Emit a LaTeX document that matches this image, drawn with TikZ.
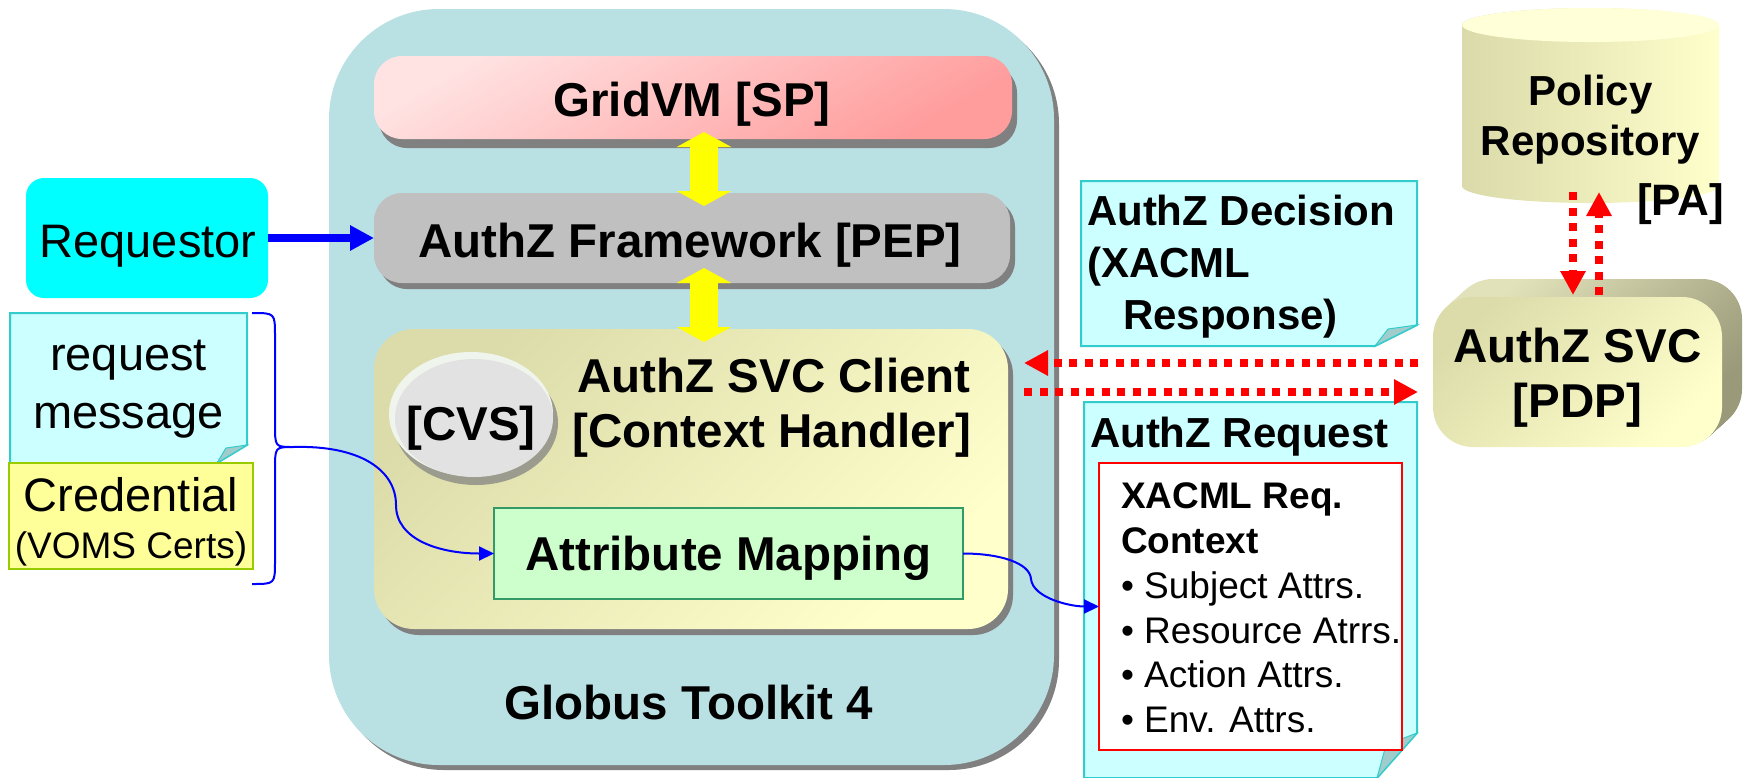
\documentclass[tikz,border=0pt]{standalone}
\usepackage{fontspec}
\setmainfont{Liberation Sans}
\usetikzlibrary{arrows.meta,shadows}
\definecolor{globus}{HTML}{B9E0E3}
\definecolor{shgray}{HTML}{808080}
\definecolor{gridA}{HTML}{FFE2E2}
\definecolor{gridB}{HTML}{FF9C9C}
\definecolor{pepgray}{HTML}{C0C0C0}
\definecolor{svcA}{HTML}{DCDCAA}
\definecolor{svcB}{HTML}{FFFFCC}
\definecolor{attrfill}{HTML}{CCFFCC}
\definecolor{attrline}{HTML}{339966}
\definecolor{notefill}{HTML}{CCFFFF}
\definecolor{noteline}{HTML}{33CCCC}
\definecolor{foldfill}{HTML}{A0CCCC}
\definecolor{credfill}{HTML}{FFFF99}
\definecolor{credline}{HTML}{99CC00}
\definecolor{cvsbody}{HTML}{E2E2E2}
\definecolor{cvsrim}{HTML}{EFF5EC}
\definecolor{cvsshadow}{HTML}{9C9C8E}
\definecolor{extA}{HTML}{E2E2BA}
\definecolor{extB}{HTML}{9A9A7A}
\definecolor{cylA}{HTML}{DADAAA}
\definecolor{cylB}{HTML}{FFFFCC}
\definecolor{cyltop}{HTML}{FFFFD8}
\definecolor{reqcyan}{HTML}{00FFFF}
\definecolor{arrowyellow}{HTML}{FFFF00}
\definecolor{pureblue}{HTML}{0000FF}
\definecolor{purered}{HTML}{FF0000}
\begin{document}
\begin{tikzpicture}[x=1pt,y=-1pt,
  every node/.style={inner sep=0pt,outer sep=0pt},
  tb/.style={font=\fontsize{47.5}{47.5}\selectfont\bfseries,anchor=base},
  tr/.style={font=\fontsize{47}{47}\selectfont,anchor=base},
  tm/.style={font=\fontsize{42}{42}\selectfont\bfseries,anchor=base west},
  tmc/.style={font=\fontsize{42}{42}\selectfont\bfseries,anchor=base},
  tsb/.style={font=\fontsize{37}{37}\selectfont\bfseries,anchor=base west},
  ts/.style={font=\fontsize{37}{37}\selectfont,anchor=base west},
  note/.style={fill=notefill,draw=noteline,line width=2pt},
  fold/.style={fill=foldfill,draw=noteline,line width=1pt},
  thinblue/.style={draw=pureblue,line width=2pt},
  thinarrow/.style={thinblue,-{Triangle[length=15pt,width=14pt]}},
  yarrow/.style={draw=arrowyellow,line width=28pt,{Triangle[length=15pt,width=54pt]}-{Triangle[length=15pt,width=54pt]}},
  rarrow/.style={draw=purered,line width=8pt,dash pattern=on 8pt off 7.5pt,-{Triangle[length=24pt,width=24pt]}}
]
\useasboundingbox (0,0) rectangle (1744,777);

% Globus Toolkit container
\node[fill=globus,rounded corners=110pt,minimum width=725pt,minimum height=756pt,
  drop shadow={shadow xshift=5pt,shadow yshift=-5pt,fill=shgray,opacity=1}] (gt) at (691.5,387) {};

% GridVM
\node[top color=gridA,bottom color=gridB,shading angle=30,rounded corners=28pt,
  minimum width=638pt,minimum height=83pt,
  drop shadow={shadow xshift=5pt,shadow yshift=-9pt,fill=shgray,opacity=1}] (grid) at (693,97.5) {};
% PEP
\node[fill=pepgray,rounded corners=28pt,minimum width=636pt,minimum height=90pt,
  drop shadow={shadow xshift=5pt,shadow yshift=-6pt,fill=shgray,opacity=1}] (pep) at (692,238) {};
% SVC client
\node[top color=svcA,bottom color=svcB,shading angle=45,rounded corners=40pt,
  minimum width=634pt,minimum height=300pt,
  drop shadow={shadow xshift=5pt,shadow yshift=-6pt,fill=shgray,opacity=1}] (svc) at (691,479) {};

% CVS
\fill[cvsshadow] (476,423) ellipse[x radius=82pt,y radius=62pt];
\fill[cvsrim] (471,414) ellipse[x radius=82pt,y radius=62pt];
\fill[cvsbody] (474,418) ellipse[x radius=79pt,y radius=59pt];

% Attribute mapping
\node[fill=attrfill,draw=attrline,line width=2pt,minimum width=469pt,minimum height=91pt] (attr) at (728.5,553.5) {};

% yellow arrows
\coordinate (ya1) at (704,132);
\coordinate (yb1) at (704,206);
\coordinate (ya2) at (704,268);
\coordinate (yb2) at (704,342);
\draw[yarrow] (ya1) -- (yb1);
\draw[yarrow] (ya2) -- (yb2);

% Requestor
\node[fill=reqcyan,rounded corners=18pt,minimum width=242pt,minimum height=120pt] (req) at (147,238) {};
\draw[draw=pureblue,line width=8pt,-{Triangle[length=24pt,width=24pt]}] (req.east) -- (pep.west);

% request message note and credential
\path[note] (10,313) -- (247,313) -- (247,445) -- (217,463) -- (10,463) -- cycle;
\path[fold] (217,463) -- (226,448) -- (247,445) -- cycle;
\node[fill=credfill,draw=credline,line width=2pt,minimum width=244pt,minimum height=106pt] (cred) at (131,516) {};

% brace and curve
\coordinate (btip) at (293,447);
\draw[thinblue] (252,313) .. controls (275,313) .. (275,336) -- (275,424) .. controls (275,447) .. (btip)
  .. controls (275,447) .. (275,470) -- (275,561) .. controls (275,584) .. (252,584);
\draw[thinarrow] (btip) .. controls (360,445) and (396,470) .. (396,505) .. controls (396,540) and (440,553.5) .. (attr.west);

% AuthZ Decision note
\path[note] (1081,181) -- (1417,181) -- (1417,325) -- (1375,346) -- (1081,346) -- cycle;
\path[fold] (1375,346) -- (1388,329) -- (1417,325) -- cycle;

% AuthZ Request note
\path[note] (1084,402) -- (1417,402) -- (1417,733) -- (1377,778) -- (1084,778) -- cycle;
\path[fold] (1377,778) -- (1386,745) -- (1417,733) -- cycle;
\node[fill=white,draw=purered,line width=2pt,minimum width=303pt,minimum height=287pt] (xreq) at (1250.5,606.5) {};

\draw[thinarrow] (attr.east) .. controls (1000,553.5) and (1030,563) .. (1031,579) .. controls (1033,598) and (1070,606.5) .. (xreq.west);

% PDP (extruded box)
\foreach \i in {20,19,...,1} {
  \shade[top color=extA,bottom color=extB,shading angle=45,rounded corners=40pt]
    ({1433+\i},{297-0.9*\i}) rectangle ++(289,150);
}
\node[top color=svcA,bottom color=svcB,shading angle=45,rounded corners=40pt,
  minimum width=289pt,minimum height=150pt] (pdp) at (1577.5,372) {};

% Policy repository cylinder
\shade[left color=cylA,right color=cylB] (1462,25) -- (1462,186)
  arc[start angle=180,end angle=360,x radius=128.5pt,y radius=17pt] -- (1719,25)
  arc[start angle=0,end angle=180,x radius=128.5pt,y radius=17pt] -- cycle;
\fill[cyltop] (1590.5,25) ellipse[x radius=128.5pt,y radius=17pt];

% red dotted arrows
\coordinate (rhA) at (1418,363);
\coordinate (rhB) at (1024,363);
\coordinate (rlA) at (1024,392);
\coordinate (rlB) at (1418,392);
\coordinate (pdA) at (1573,192);
\coordinate (pdB) at (1573,295);
\coordinate (puA) at (1599,295);
\coordinate (puB) at (1599,192);
\draw[rarrow] (rhA) -- (rhB);
\draw[rarrow] (rlA) -- (rlB);
\draw[rarrow] (pdA) -- (pdB);
\draw[rarrow] (puA) -- (puB);

% texts
\node[tb] (tgrid) at (692,116) {GridVM [SP]};
\node[tb] (tpep) at (690,257) {AuthZ Framework [PEP]};
\node[tb] (tsvc1) at (774,392) {AuthZ SVC Client};
\node[tb] (tsvc2) at (772,447) {[Context Handler]};
\node[tb] (tcvs) at (471,440) {[CVS]};
\node[tb] (tattr) at (728.5,570) {Attribute Mapping};
\node[tb] (tgt) at (689,719) {Globus Toolkit 4};
\node[tr] (treq) at (148,257) {Requestor};
\node[tr] (tmsg1) at (128.5,370) {request};
\node[tr] (tmsg2) at (128.5,428) {message};
\node[tr] (tcred1) at (131,511) {Credential};
\node[font=\fontsize{37}{37}\selectfont,anchor=base] (tcred2) at (131,558) {(VOMS Certs)};
\node[tm] (tdec1) at (1087,225) {AuthZ Decision};
\node[tm] (tdec2) at (1087,277) {(XACML};
\node[tm] (tdec3) at (1123,329) {Response)};
\node[tm] (tareq) at (1090,447) {AuthZ Request};
\node[tsb] (tx1) at (1121,508) {XACML Req.};
\node[tsb] (tx2) at (1121,553) {Context};
\node[ts] (tx3) at (1121,598) {• Subject Attrs.};
\node[ts] (tx4) at (1121,643) {• Resource Atrrs.};
\node[ts] (tx5) at (1121,687) {• Action Attrs.};
\node[ts] (tx6) at (1121,732) {• Env. Attrs.};
\node[tmc] (tpol1) at (1590.5,105) {Policy};
\node[tmc] (tpol2) at (1590.5,155) {Repository};
\node[font=\fontsize{44}{44}\selectfont\bfseries,anchor=base west] (tpa) at (1637,215) {[PA]};
\node[tb] (tpdp1) at (1577.5,362) {AuthZ SVC};
\node[tb] (tpdp2) at (1577.5,417) {[PDP]};
\end{tikzpicture}
\end{document}
